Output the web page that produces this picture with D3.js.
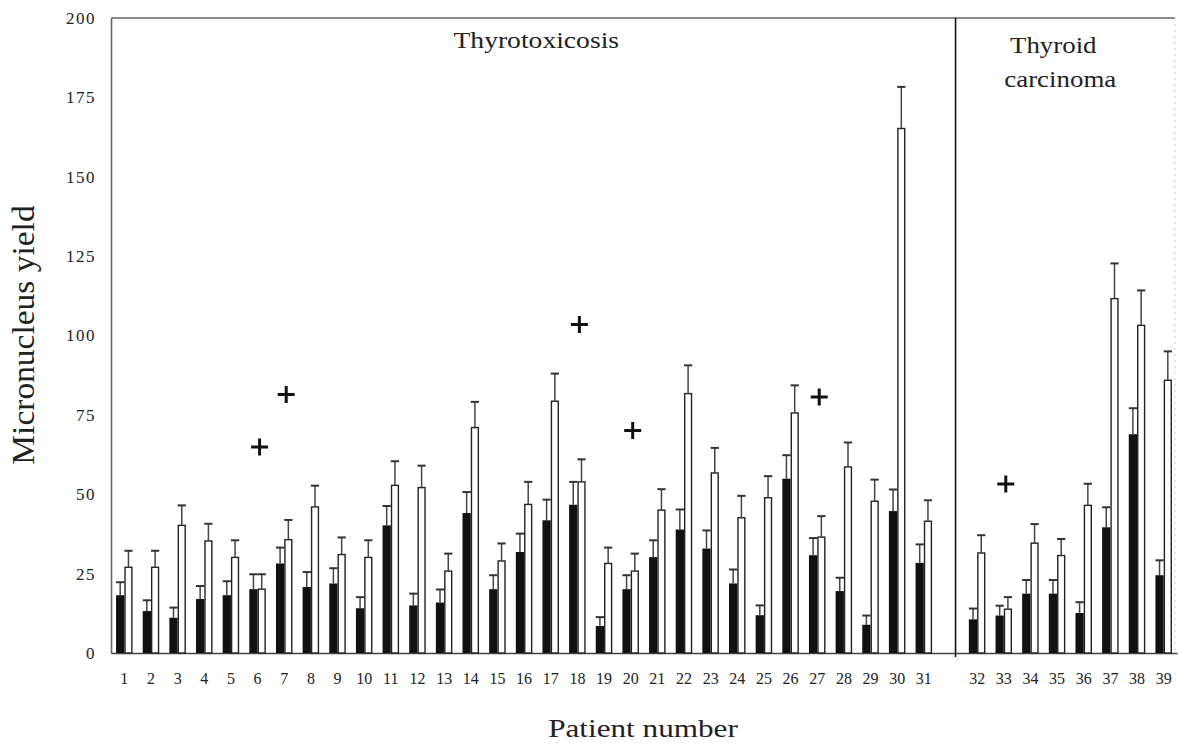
<!DOCTYPE html>
<html>
<head>
<meta charset="utf-8">
<script src="https://cdn.jsdelivr.net/npm/d3@7"></script>
<style>
  html, body { margin: 0; padding: 0; background: #fff; }
  svg { display: block; }
  text { font-family: "Liberation Serif", "DejaVu Serif", serif; fill: #222; }
</style>
</head>
<body>
<svg id="chart" width="1178" height="746"></svg>
<script>
// Patient numbers, split into the two diagnostic groups
const thyrotoxicosis = d3.range(1, 32);
const carcinoma = d3.range(32, 40);
const patients = thyrotoxicosis.concat(carcinoma);

// Micronucleus yield before treatment (black) and after treatment (white), with SE
const beforeMean = [18.2, 13.2, 11.1, 17.0, 18.2, 20.1, 28.2, 20.8, 21.9, 14.1,
                    40.2, 15.0, 15.9, 44.1, 20.1, 31.8, 41.8, 46.7, 8.5, 20.1,
                    30.2, 38.9, 32.9, 21.9, 11.9, 54.9, 30.8, 19.5, 8.9, 44.7,
                    28.4, 10.6, 11.8, 18.7, 18.7, 12.6, 39.6, 68.9, 24.5];
const beforeSE   = [4.1, 3.4, 3.2, 4.1, 4.4, 4.7, 5.0, 4.7, 4.8, 3.5,
                    6.1, 3.7, 4.1, 6.6, 4.4, 5.8, 6.5, 7.2, 2.8, 4.4,
                    5.3, 6.3, 5.7, 4.4, 3.1, 7.4, 5.4, 4.2, 2.9, 6.8,
                    5.8, 3.4, 3.1, 4.3, 4.3, 3.4, 6.3, 8.2, 4.7];
const afterMean  = [27.0, 27.0, 40.2, 35.3, 30.1, 20.1, 35.7, 46.0, 31.0, 30.1,
                    52.8, 52.1, 25.8, 71.0, 29.0, 46.8, 79.3, 53.9, 28.2, 25.8,
                    45.0, 81.7, 56.7, 42.6, 48.9, 75.6, 36.5, 58.6, 47.8, 165.2,
                    41.5, 31.5, 13.8, 34.6, 30.7, 46.5, 111.6, 103.2, 85.9];
const afterSE    = [5.2, 5.2, 6.3, 5.4, 5.4, 4.7, 6.2, 6.7, 5.4, 5.4,
                    7.6, 6.9, 5.5, 8.1, 5.5, 7.1, 8.7, 7.1, 5.0, 5.5,
                    6.6, 8.9, 7.9, 6.9, 6.8, 8.7, 6.6, 7.7, 6.8, 13.1,
                    6.6, 5.6, 3.8, 6.0, 5.2, 6.8, 11.1, 11.0, 9.1];

// Patients flagged with a cross, and the height of each cross
const crossPatients = [6, 7, 18, 20, 27, 33];
const crossValues   = [64.9, 81.4, 103.5, 70.1, 80.6, 53.2];

const yTicks = [0, 25, 50, 75, 100, 125, 150, 175, 200];
const groupTitles = [["Thyrotoxicosis"], ["Thyroid", "carcinoma"]];
const yTitle = "Micronucleus yield";
const xTitle = "Patient number";

const svg = d3.select("#chart");

const plot = { left: 111, right: 1177, top: 18, bottom: 653 };

// One slot per patient, with an empty slot separating the two groups
const slots = thyrotoxicosis.map(String).concat(["gap"], carcinoma.map(String));
const x = d3.scaleBand()
  .domain(slots)
  .range([plot.left, plot.right])
  .paddingInner(0.38)
  .paddingOuter(0.19);
const sub = d3.scaleBand()
  .domain(["before", "after"])
  .range([0, x.bandwidth()]);
const y = d3.scaleLinear().domain([0, 200]).range([plot.bottom, plot.top]);

const rows = patients.map((p, i) => ({
  p,
  bars: [
    { key: "before", m: beforeMean[i], se: beforeSE[i] },
    { key: "after",  m: afterMean[i],  se: afterSE[i] }
  ]
}));

// Frame: top and right edges
svg.append("line")
  .attr("x1", plot.left).attr("x2", plot.right - 2)
  .attr("y1", y(200)).attr("y2", y(200))
  .attr("stroke", "#666").attr("stroke-width", 1.6);
svg.append("line")
  .attr("x1", plot.right - 2).attr("x2", plot.right - 2)
  .attr("y1", y(200)).attr("y2", y(0))
  .attr("stroke", "#ccc").attr("stroke-width", 1)
  .attr("stroke-dasharray", "2,4");

// Y axis
const yAxis = svg.append("g")
  .attr("transform", `translate(${plot.left},0)`)
  .call(d3.axisLeft(y).tickValues(yTicks).tickSize(0).tickPadding(15));
yAxis.select(".domain").attr("stroke", "#666").attr("stroke-width", 1.6);
yAxis.selectAll("text")
  .style("font-family", '"Liberation Serif", serif')
  .style("font-size", "17px")
  .style("letter-spacing", "1.5px")
  .attr("fill", "#333");

// X axis
const xAxis = svg.append("g")
  .attr("transform", `translate(0,${plot.bottom})`)
  .call(d3.axisBottom(x).tickValues(patients.map(String)).tickSize(0).tickSizeOuter(0).tickPadding(20));
xAxis.select(".domain").attr("stroke", "#444").attr("stroke-width", 1.6);
xAxis.selectAll("text")
  .style("font-family", '"Liberation Serif", serif')
  .style("font-size", "16px")
  .attr("fill", "#333");

// Divider between the two patient groups
const divX = x("gap") + x.step() / 2;
svg.append("line")
  .attr("x1", divX).attr("x2", divX)
  .attr("y1", y(200)).attr("y2", y(0) + 4)
  .attr("stroke", "#111").attr("stroke-width", 1.6);

// Bars
const groups = svg.append("g").selectAll("g")
  .data(rows).join("g")
  .attr("transform", d => `translate(${x(String(d.p))},0)`);

groups.selectAll("rect")
  .data(d => d.bars).join("rect")
  .attr("x", b => sub(b.key) + (b.key === "after" ? 0.7 : 0))
  .attr("width", b => sub.bandwidth() - (b.key === "after" ? 1.4 : 0))
  .attr("y", b => y(b.m))
  .attr("height", b => y(0) - y(b.m))
  .attr("fill", b => b.key === "before" ? "#111" : "#fff")
  .attr("stroke", b => b.key === "before" ? "none" : "#222")
  .attr("stroke-width", 1.4);

// Error bars (upper side only)
const err = groups.selectAll("g.err")
  .data(d => d.bars).join("g").attr("class", "err");
err.append("line")
  .attr("x1", b => sub(b.key) + sub.bandwidth() / 2)
  .attr("x2", b => sub(b.key) + sub.bandwidth() / 2)
  .attr("y1", b => y(b.m))
  .attr("y2", b => y(b.m + b.se))
  .attr("stroke", "#444").attr("stroke-width", 1.5);
err.append("line")
  .attr("x1", b => sub(b.key))
  .attr("x2", b => sub(b.key) + sub.bandwidth())
  .attr("y1", b => y(b.m + b.se))
  .attr("y2", b => y(b.m + b.se))
  .attr("stroke", "#333").attr("stroke-width", 2);

// Crosses above flagged patients
const crossPath = s => {
  const p = d3.path();
  p.moveTo(-s, 0); p.lineTo(s, 0);
  p.moveTo(0, -s); p.lineTo(0, s);
  return p.toString();
};
svg.append("g").selectAll("path")
  .data(crossPatients.map((p, i) => ({ p, v: crossValues[i] })))
  .join("path")
  .attr("transform", d => `translate(${x(String(d.p)) + x.bandwidth() / 2 + 2},${y(d.v)})`)
  .attr("d", crossPath(8.5))
  .attr("stroke", "#111").attr("stroke-width", 3);

// Group titles
const g1 = (plot.left + divX) / 2;
const g2 = (divX + plot.right) / 2 - 8;
svg.append("text")
  .attr("transform", `translate(${g1 + 3},48) scale(1.15,1)`)
  .attr("text-anchor", "middle")
  .style("font-size", "24px")
  .text(groupTitles[0][0]);
groupTitles[1].forEach((t, i) => {
  svg.append("text")
    .attr("transform", `translate(${g2 - (i === 0 ? 5 : -2)},${53 + i * 34}) scale(1.12,1)`)
    .attr("text-anchor", "middle")
    .style("font-size", "24px")
    .text(t);
});

// Axis titles
svg.append("text")
  .attr("transform", `translate(643,737) scale(1.2,1)`)
  .attr("text-anchor", "middle")
  .style("font-size", "26px")
  .text(xTitle);
svg.append("text")
  .attr("transform", `translate(34,335) rotate(-90) scale(1.08,1)`)
  .attr("text-anchor", "middle")
  .style("font-size", "31px")
  .text(yTitle);
</script>
</body>
</html>
